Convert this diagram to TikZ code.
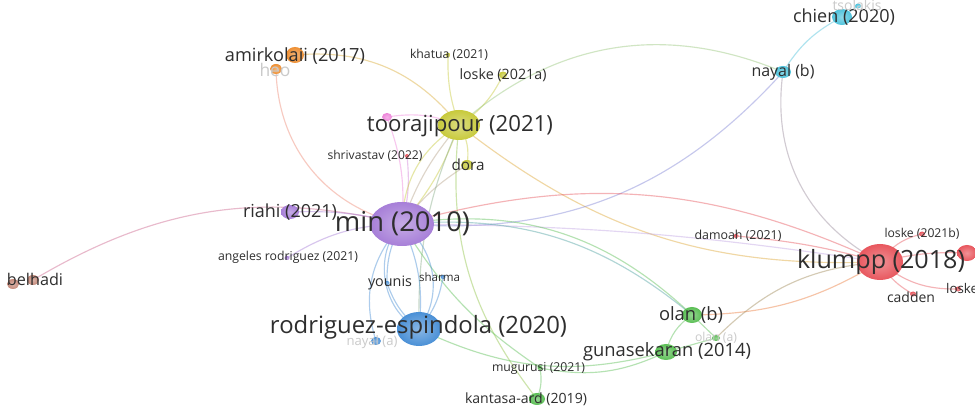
\documentclass[tikz,border=0pt]{standalone}
\usepackage{fontspec}
\setmainfont{Open Sans}
\usetikzlibrary{shapes.geometric}
\pgfdeclarelayer{edges}
\pgfsetlayers{edges,main}

% cluster colours
\definecolor{cpurple}{HTML}{A77FD8}
\definecolor{cyellow}{HTML}{C8CA3C}
\definecolor{cred}{HTML}{E8575E}
\definecolor{cblue}{HTML}{4A90D6}
\definecolor{cgreen}{HTML}{5BBF55}
\definecolor{ccyan}{HTML}{4FC3DC}
\definecolor{corange}{HTML}{EE8F33}
\definecolor{cpink}{HTML}{EE86DA}
\definecolor{cbrown}{HTML}{C68A7A}
\definecolor{txt}{HTML}{2E2E2E}
\definecolor{faint}{HTML}{CACACA}

\tikzset{
  bub/.style 2 args={ellipse, inner sep=0pt, minimum width=#1pt, minimum height=#2pt},
  fillc/.style={shading=radial, inner color=#1!65!white, outer color=#1, draw=none},
  lnk/.style={line width=1.15pt, draw=#1, opacity=0.45},
  lab/.style={text=txt, inner sep=0pt},
  fadedlab/.style={text=faint, inner sep=0pt},
}
% label text stretched to a given width
\newcommand\lbl[2]{\resizebox{#1pt}{!}{\fontsize{20}{22}\selectfont #2}}

\begin{document}
\begin{tikzpicture}[x=1pt,y=-1pt]
\useasboundingbox (0,0) rectangle (975,411);

% ---------- bubbles ----------
\node[bub={64}{44}, fillc=cpurple] (min) at (402,224) {};
\node[bub={42}{30}, fillc=cyellow] (toor) at (459,125) {};
\node[bub={46}{36}, fillc=cred] (klumpp) at (880,262) {};
\node[bub={44}{34}, fillc=cblue] (rodr) at (419,329) {};
\node[bub={18}{16}, fillc=corange] (amir) at (295,55) {};
\node[bub={12}{10}, fillc=corange] (heo) at (276,69) {};
\node[bub={5}{4}, fillc=cyellow] (khatua) at (448,55) {};
\node[bub={8}{7}, fillc=cyellow] (loskeA) at (503,75) {};
\node[bub={10}{8}, fillc=cpink] (pinkn) at (387,117) {};
\node[bub={4}{4}, fillc=cred] (shriv) at (407,156) {};
\node[bub={12}{10}, fillc=cyellow] (dora) at (467,165) {};
\node[bub={18}{14}, fillc=cpurple] (riahi) at (290,212) {};
\node[bub={5}{4}, fillc=cpurple] (angeles) at (287,258) {};
\node[bub={12}{10}, fillc=cbrown] (belhadiA) at (13,284) {};
\node[bub={12}{10}, fillc=cbrown] (belhadiB) at (33,280) {};
\node[bub={5}{4}, fillc=cblue] (younis) at (387,283) {};
\node[bub={5}{4}, fillc=cblue] (sharma) at (443,277) {};
\node[bub={10}{8}, fillc=cblue] (nayalA) at (376,341) {};
\node[bub={16}{12}, fillc=ccyan] (nayalB) at (783,72) {};
\node[bub={20}{16}, fillc=ccyan] (chien) at (842,17) {};
\node[bub={6}{5}, fillc=ccyan] (tsolakis) at (858,6) {};
\node[bub={5}{4}, fillc=cred] (damoah) at (736,236) {};
\node[bub={6}{5}, fillc=cred] (loskeB) at (922,234) {};
\node[bub={20}{16}, fillc=cred] (rnode) at (967,253) {};
\node[bub={6}{5}, fillc=cred] (loskeC) at (958,289) {};
\node[bub={6}{5}, fillc=cred] (cadden) at (913,294) {};
\node[bub={20}{16}, fillc=cgreen] (olanB) at (692,315) {};
\node[bub={8}{6}, fillc=cgreen] (olanA) at (716,338) {};
\node[bub={22}{16}, fillc=cgreen] (guna) at (666,352) {};
\node[bub={5}{4}, fillc=cgreen] (mugurusi) at (540,368) {};
\node[bub={16}{12}, fillc=cgreen] (kantasa) at (537,399) {};

% ---------- labels ----------
\node[lab] (lmin) at (402.5,224) {\lbl{135}{min (2010)}};
\node[lab] (ltoor) at (460,126) {\lbl{186}{toorajipour (2021)}};
\node[lab] (lklumpp) at (881,262) {\lbl{168}{klumpp (2018)}};
\node[lab] (lrodr) at (418.5,327) {\lbl{297}{rodriguez-espindola (2020)}};
\node[lab] (lamir) at (295,56) {\lbl{140}{amirkolaii (2017)}};
\node[fadedlab] (lheo) at (275,70) {\lbl{31}{heo}};
\node[lab] (lkhatua) at (449,55) {\lbl{78}{khatua (2021)}};
\node[lab] (lloskeA) at (503,75) {\lbl{87}{loske (2021a)}};
\node[lab] (lshriv) at (375,156) {\lbl{95}{shrivastav (2022)}};
\node[lab] (ldora) at (468,165) {\lbl{33}{dora}};
\node[lab] (lriahi) at (290,212) {\lbl{94}{riahi (2021)}};
\node[lab] (langeles) at (288,257) {\lbl{140}{angeles rodriguez (2021)}};
\node[lab] (lbelhadi) at (35,279) {\lbl{56}{belhadi}};
\node[lab] (lyounis) at (390,283) {\lbl{44}{younis}};
\node[lab] (lsharma) at (439.5,277) {\lbl{41}{sharma}};
\node[fadedlab] (lnayalA) at (372,342) {\lbl{51}{nayal (a)}};
\node[lab] (lnayalB) at (783,72) {\lbl{63}{nayal (b)}};
\node[lab] (lchien) at (844,17) {\lbl{102}{chien (2020)}};
\node[fadedlab] (ltsolakis) at (857,5) {\lbl{49}{tsolakis}};
\node[lab] (ldamoah) at (738,236) {\lbl{87}{damoah (2021)}};
\node[lab] (lloskeB) at (922,234) {\lbl{75}{loske (2021b)}};
\node[lab, anchor=west] (lloskeC) at (946,289) {\lbl{32}{loske}};
\node[lab] (lcadden) at (911,297) {\lbl{48}{cadden}};
\node[lab] (lolanB) at (691,315) {\lbl{64}{olan (b)}};
\node[fadedlab] (lolanA) at (716,338) {\lbl{42}{olan (a)}};
\node[lab] (lguna) at (667,352) {\lbl{168}{gunasekaran (2014)}};
\node[lab] (lmugurusi) at (538.5,368) {\lbl{93}{mugurusi (2021)}};
\node[lab] (lkantasa) at (526,399) {\lbl{122}{kantasa-ard (2019)}};

% ---------- links ----------
\begin{pgfonlayer}{edges}
\fill[white] (0,0) rectangle (975,411);
% purple cluster
\draw[lnk=cred!60!cpurple] (belhadiB.center) to[bend left=22] (min.center);
\draw[lnk=cpurple] (riahi.center) to[bend left=8] (min.center);
\draw[lnk=cpurple] (angeles.center) to[bend left=15] (min.center);
\draw[lnk=corange!60!cpink] (heo.center) to[bend right=38] (min.center);
\draw[lnk=cpink] (pinkn.center) to[bend left=12] (min.center);
\draw[lnk=cpink] (pinkn.center) to[bend left=15] (toor.center);
\draw[lnk=cpink!60!cpurple] (shriv.center) to[bend left=10] (min.center);
% yellow cluster
\draw[lnk=corange!50!cyellow] (amir.center) to[bend left=28] (toor.center);
\draw[lnk=cyellow] (khatua.center) to[bend right=10] (toor.center);
\draw[lnk=cyellow] (loskeA.center) to[bend left=15] (toor.center);
\draw[lnk=cyellow!60!ccyan] (toor.center) to[bend left=32] (nayalB.center);
\draw[lnk=cyellow] (toor.center) to[bend left=10] (min.center);
\draw[lnk=cyellow!50!cpurple] (toor.center) to[bend right=10] (min.center);
\draw[lnk=cyellow] (toor.center) to[bend right=28] (min.center);
\draw[lnk=cyellow] (toor.center) to[bend left=20] (dora.center);
\draw[lnk=cyellow!50!cpurple] (dora.center) to[bend right=10] (min.center);
\draw[lnk=corange!60!cyellow] (toor.center) to[bend right=20] (klumpp.center);
\draw[lnk=cyellow!50!cgreen] (toor.center) to[bend right=22] (kantasa.center);
\draw[lnk=cyellow!50!cblue] (toor.center) to[bend right=12] (rodr.center);
% links from min to the right
\draw[lnk=cpurple!60!cblue] (min.center) to[bend right=26] (nayalB.center);
\draw[lnk=cred] (min.center) to[bend left=20] (klumpp.center);
\draw[lnk=cpurple!70!white] (min.center) to[bend left=4] (klumpp.center);
\draw[lnk=cblue!60!cgreen] (min.center) to[bend left=22] (olanB.center);
\draw[lnk=cgreen] (min.center) to[bend left=26] (olanB.center);
\draw[lnk=cgreen] (min.center) to[bend right=12] (mugurusi.center);
% cyan cluster
\draw[lnk=ccyan] (chien.center) to[bend right=15] (nayalB.center);
\draw[lnk=ccyan] (tsolakis.center) to (chien.center);
\draw[lnk=ccyan!50!cred] (nayalB.center) to[bend right=35] (klumpp.center);
% red cluster
\draw[lnk=cred] (damoah.center) to[bend left=5] (klumpp.center);
\draw[lnk=cred] (klumpp.center) to[bend left=20] (loskeB.center);
\draw[lnk=cred] (klumpp.center) to[bend left=8] (rnode.center);
\draw[lnk=cred] (klumpp.center) to[bend right=20] (loskeC.center);
\draw[lnk=cred] (klumpp.center) to[bend right=15] (cadden.center);
\draw[lnk=corange!70!cred] (klumpp.center) to[bend left=15] (olanB.center);
\draw[lnk=cred!50!cgreen] (klumpp.center) to[bend right=20] (olanA.center);
% green cluster
\draw[lnk=cgreen] (olanB.center) to (olanA.center);
\draw[lnk=cgreen] (olanB.center) to[bend right=20] (guna.center);
\draw[lnk=cgreen] (olanA.center) to (guna.center);
\draw[lnk=cgreen] (guna.center) to[bend left=18] (mugurusi.center);
\draw[lnk=cgreen] (mugurusi.center) to[bend left=15] (kantasa.center);
\draw[lnk=cgreen] (rodr.center) to[bend right=20] (guna.center);
% blue cluster
\draw[lnk=cblue] (min.center) to[bend left=45] (rodr.center);
\draw[lnk=cblue] (min.center) to[bend right=55] (rodr.center);
\draw[lnk=cblue] (min.center) to[bend left=15] (rodr.center);
\draw[lnk=cblue] (min.center) to[bend right=15] (younis.center);
\draw[lnk=cblue] (younis.center) to[bend right=15] (rodr.center);
\draw[lnk=cblue] (sharma.center) to[bend left=15] (rodr.center);
\draw[lnk=cblue] (min.center) to[bend right=30] (nayalA.center);
\end{pgfonlayer}
\end{tikzpicture}
\end{document}
